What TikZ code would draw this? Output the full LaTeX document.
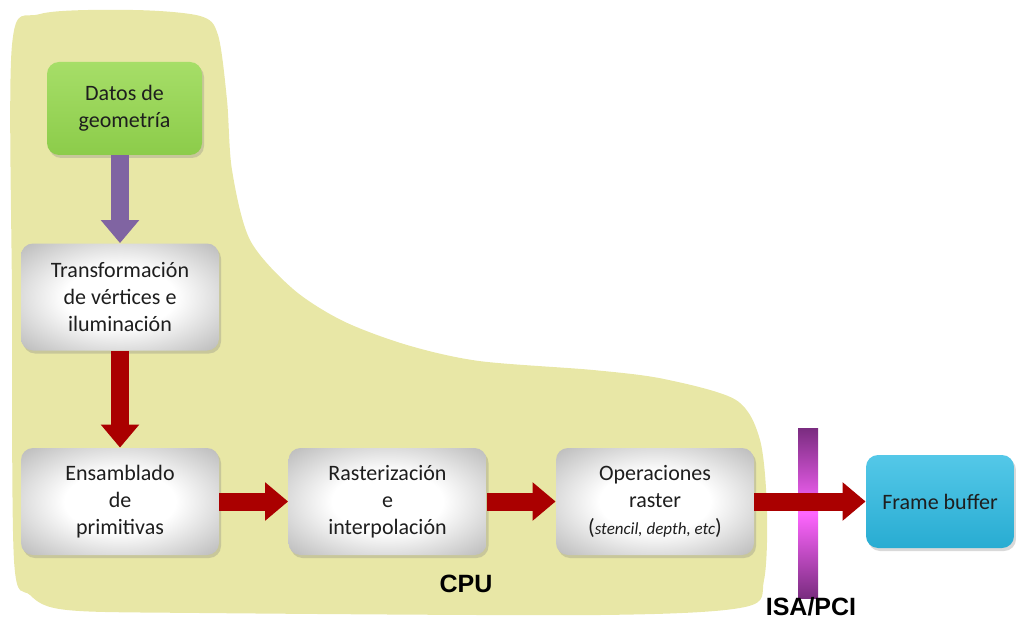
\documentclass[tikz,border=0pt]{standalone}
\usepackage{fontspec}
\setmainfont{Carlito}
\newfontfamily\arialfont{Liberation Sans}
\usetikzlibrary{arrows.meta,shadows}

\definecolor{cpuyellow}{RGB}{232,231,166}
\definecolor{boxgray}{RGB}{140,140,140}
\definecolor{textblack}{RGB}{30,30,30}
\definecolor{geogreen}{RGB}{140,204,74}
\definecolor{geogreenlight}{RGB}{166,222,104}
\definecolor{fbcyan}{RGB}{40,172,210}
\definecolor{fbcyanlight}{RGB}{84,200,232}
\definecolor{arrowred}{RGB}{170,0,0}
\definecolor{arrowpurple}{RGB}{128,100,162}
\definecolor{busdark}{RGB}{122,44,128}
\definecolor{buslight}{RGB}{255,102,255}

\pgfdeclareradialshading{boxglow}{\pgfpoint{0bp}{0bp}}{color(0bp)=(white); color(14bp)=(white); color(50bp)=(boxgray)}

\tikzset{gray-box/.style={rectangle, rounded corners=6pt, shade, shading=boxglow,
    minimum width=99pt, minimum height=53.5pt, inner sep=0pt, align=center,
    text=textblack, font=\fontsize{11}{13.5}\selectfont,
    drop shadow={opacity=0.3, shadow xshift=1pt, shadow yshift=-1.5pt}}}
\tikzset{geo-box/.style={gray-box, top color=geogreenlight, bottom color=geogreen,
    minimum width=77.5pt, minimum height=46.5pt}}
\tikzset{fb-box/.style={gray-box, top color=fbcyanlight, bottom color=fbcyan,
    minimum width=74pt, minimum height=46.5pt}}
\tikzset{bus-bar/.style={rectangle, minimum width=10pt, minimum height=85pt, inner sep=0pt,
    top color=busdark, bottom color=busdark, middle color=buslight}}
\tikzset{red-arrow/.style={-{Triangle[width=18.5pt,length=11.5pt]}, line width=9pt, arrowred}}
\tikzset{purple-arrow/.style={-{Triangle[width=18.5pt,length=11.5pt]}, line width=9pt, arrowpurple}}
\tikzset{bus-label/.style={inner sep=0pt, text=black, font=\arialfont\bfseries\fontsize{12.5}{14}\selectfont}}

\begin{document}
\begin{tikzpicture}[x=0.5pt,y=-0.5pt]
      \useasboundingbox (0,0) rectangle (1016,620);

      % CPU area
      \fill[cpuyellow] plot[smooth cycle, tension=0.5] coordinates {(12,45) (40,14) (133,10) (200,16) (218,35)
        (227,100) (232,170) (250,240) (293,289) (343,321) (407,345) (479,361)
        (593,370) (664,379) (736,400) (760,440) (767,510) (764,580) (745,607)
        (600,615) (200,613) (67,610) (30,595) (14,560) (12,300)};

      \node[geo-box] (datos) at (124.5,108.5) {Datos de\\geometría};
      \node[gray-box] (trans) at (120,297) {Transformación\\de vértices e\\iluminación};
      \node[gray-box] (ens) at (120,501.5) {Ensamblado\\de\\primitivas};
      \node[gray-box] (rast) at (387.5,501.5) {Rasterización\\e\\interpolación};
      \node[gray-box] (oper) at (655,501.5) {Operaciones\\raster\\({\fontsize{8.5}{10}\selectfont\itshape stencil, depth, etc})};
      \node[fb-box] (fb) at (940,501.5) {Frame buffer};

      \node[bus-bar] (bus) at (808,513) {};
      \node[bus-label] (cpu) at (466,584) {CPU};
      \node[bus-label] (isa) at (811,607) {ISA/PCI};

      \draw[purple-arrow] (trans.north |- datos.south) -- (trans.north);
      \draw[red-arrow] (trans) -- (ens);
      \draw[red-arrow] (ens) -- (rast);
      \draw[red-arrow] (rast) -- (oper);
      \draw[red-arrow] (oper) -- (fb);
\end{tikzpicture}
\end{document}
